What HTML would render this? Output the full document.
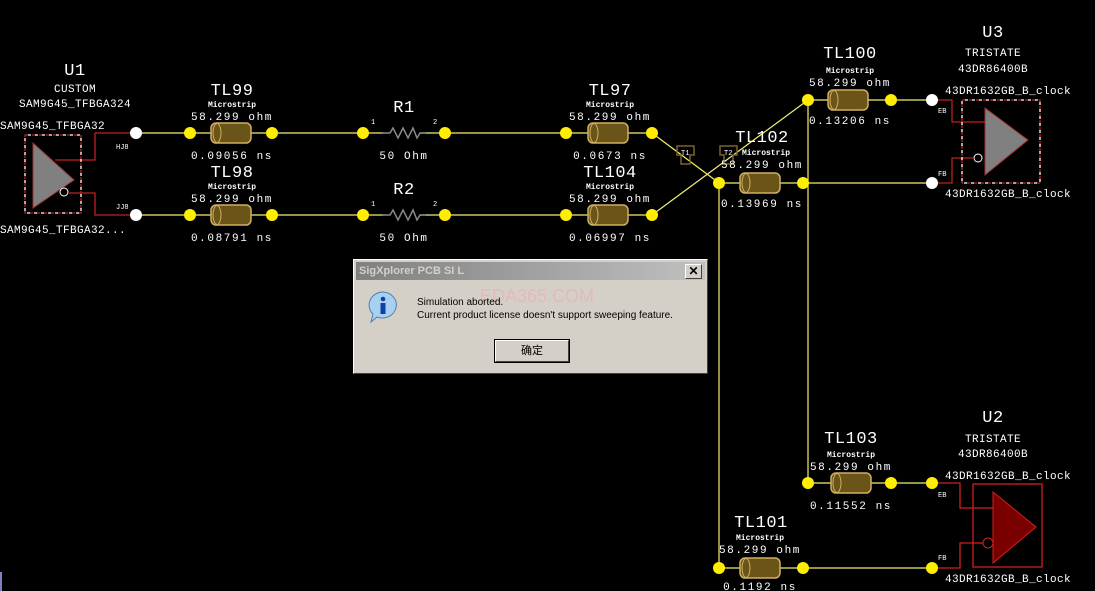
<!DOCTYPE html>
<html><head><meta charset="utf-8">
<style>
html,body{margin:0;padding:0;background:#000;width:1095px;height:591px;overflow:hidden;position:relative}
svg{position:absolute;left:0;top:0}
svg text{font-family:"Liberation Mono",monospace;fill:#fff}
.dlg{position:absolute;left:353px;top:259px;width:355px;height:115px;background:#d4d0c8;border:1px solid #fff;border-right-color:#404040;border-bottom-color:#404040;box-sizing:border-box;font-family:"Liberation Sans","Noto Sans CJK SC",sans-serif}
.tb{position:absolute;left:2px;top:2px;right:2px;height:18px;background:linear-gradient(90deg,#808080,#c0c0c0);color:#d4d0c8;font-weight:bold;font-size:11px;line-height:18px;padding-left:3px}
.cl{position:absolute;right:3px;top:2px;width:15px;height:13px;background:#d4d0c8;border:1px solid #fff;border-right-color:#404040;border-bottom-color:#404040;color:#000;font-size:12px;line-height:12px;text-align:center;font-weight:bold}
.msg{position:absolute;left:63px;top:36px;font-size:10px;color:#000;line-height:13px}
.wm{position:absolute;left:126px;top:26px;font-size:18px;color:rgba(240,170,170,.6)}
.btn{position:absolute;left:141px;top:80px;width:74px;height:22px;border:1px solid #fff;border-right-color:#404040;border-bottom-color:#404040;box-sizing:border-box;font-size:11px;text-align:center;line-height:20px;color:#000;outline:1px solid #000}
</style></head><body>
<svg width="1095" height="591" viewBox="0 0 1095 591">
<defs>
<g id="cyl">
<rect x="-20" y="-10" width="40" height="20" rx="5" fill="#6b5418" stroke="#d0b060" stroke-width="1.5"/>
<ellipse cx="-14" cy="0" rx="4" ry="9.5" fill="none" stroke="#d0b060" stroke-width="1"/>
</g>
<g id="res"><polyline points="-22,0 -14,0 -11,-5 -6,5 -1,-5 4,5 9,-5 13,5 16,0 22,0" fill="none" stroke="#8a8a8a" stroke-width="1.5"/></g>
</defs>
<g stroke="#f4f070" stroke-width="1.2" fill="none">
<line x1="136" y1="133" x2="272" y2="133"/><line x1="136" y1="215" x2="272" y2="215"/>
<line x1="272" y1="133" x2="385" y2="133"/><line x1="272" y1="215" x2="385" y2="215"/>
<line x1="420" y1="133" x2="652" y2="133"/><line x1="420" y1="215" x2="652" y2="215"/>
<line x1="652" y1="133" x2="719" y2="183"/><line x1="652" y1="215" x2="808" y2="100"/>
<line x1="719" y1="183" x2="932" y2="183"/><line x1="808" y1="100" x2="932" y2="100"/>
<line x1="808" y1="100" x2="808" y2="483"/><line x1="719" y1="183" x2="719" y2="568"/>
<line x1="808" y1="483" x2="932" y2="483"/><line x1="719" y1="568" x2="932" y2="568"/>
</g>
<use href="#cyl" x="231" y="133"/><use href="#cyl" x="231" y="215"/>
<use href="#cyl" x="608" y="133"/><use href="#cyl" x="608" y="215"/>
<use href="#cyl" x="760" y="183"/><use href="#cyl" x="848" y="100"/>
<use href="#cyl" x="851" y="483"/><use href="#cyl" x="760" y="568"/>
<rect x="384" y="130" width="36" height="6" fill="#000"/><rect x="384" y="212" width="36" height="6" fill="#000"/>
<use href="#res" x="404" y="133"/><use href="#res" x="404" y="215"/>
<g fill="#ffee00">
<circle cx="190" cy="133" r="6"/><circle cx="272" cy="133" r="6"/><circle cx="190" cy="215" r="6"/><circle cx="272" cy="215" r="6"/>
<circle cx="363" cy="133" r="6"/><circle cx="445" cy="133" r="6"/><circle cx="363" cy="215" r="6"/><circle cx="445" cy="215" r="6"/>
<circle cx="566" cy="133" r="6"/><circle cx="652" cy="133" r="6"/><circle cx="566" cy="215" r="6"/><circle cx="652" cy="215" r="6"/>
<circle cx="719" cy="183" r="6"/><circle cx="803" cy="183" r="6"/><circle cx="808" cy="100" r="6"/><circle cx="891" cy="100" r="6"/>
<circle cx="808" cy="483" r="6"/><circle cx="891" cy="483" r="6"/><circle cx="719" cy="568" r="6"/><circle cx="803" cy="568" r="6"/>
<circle cx="932" cy="483" r="6"/><circle cx="932" cy="568" r="6"/>
</g>
<g fill="#fff"><circle cx="136" cy="133" r="6"/><circle cx="136" cy="215" r="6"/><circle cx="932" cy="100" r="6"/><circle cx="932" cy="183" r="6"/></g>
<g fill="none" stroke="#7a6428" stroke-width="1.5">
<path d="M677,146 h17 v9 h-4 v9 h-9 v-9 h-4 z"/><path d="M720,146 h17 v9 h-4 v9 h-9 v-9 h-4 z"/>
</g>
<polygon points="33,143 74,180 33,208" fill="#808080" stroke="#a03030"/>
<circle cx="64" cy="192" r="4" fill="none" stroke="#fff"/>
<g fill="none" stroke-width="1.3">
<polyline points="55,160 95,160 95,133 130,133" stroke="#c02020"/>
<polyline points="68,193 95,193 95,215 130,215" stroke="#c02020"/>
<rect x="25" y="135" width="56" height="78" stroke="#c02020" stroke-dasharray="4 3"/>
<rect x="25" y="135" width="56" height="78" stroke="#fff" stroke-dasharray="3 4" stroke-dashoffset="4"/>
</g>
<polygon points="985,108 1028,140 985,175" fill="#808080" stroke="#a03030"/>
<circle cx="978" cy="158" r="4" fill="none" stroke="#fff"/>
<g fill="none" stroke-width="1.3">
<polyline points="938,100 952,100 952,122 985,122" stroke="#c02020"/>
<polyline points="938,183 952,183 952,158 974,158" stroke="#c02020"/>
<rect x="962" y="100" width="78" height="83" stroke="#c02020" stroke-dasharray="4 3"/>
<rect x="962" y="100" width="78" height="83" stroke="#fff" stroke-dasharray="3 4" stroke-dashoffset="4"/>
</g>
<rect x="973" y="484" width="69" height="83" fill="none" stroke="#d02020" stroke-width="1.3"/>
<polygon points="993,492 1036,527 993,563" fill="#7a0000" stroke="#d02020"/>
<circle cx="988" cy="543" r="5" fill="none" stroke="#d02020"/>
<polyline points="938,483 960,483 960,508 993,508" fill="none" stroke="#d02020" stroke-width="1.3"/>
<polyline points="938,568 960,568 960,543 983,543" fill="none" stroke="#d02020" stroke-width="1.3"/>
<g text-anchor="middle">
<g font-size="17" letter-spacing="0.5">
<text x="75" y="75">U1</text>
<text x="232" y="95">TL99</text>
<text x="232" y="177">TL98</text>
<text x="404" y="112">R1</text>
<text x="404" y="194">R2</text>
<text x="610" y="95">TL97</text>
<text x="610" y="177">TL104</text>
<text x="762" y="142">TL102</text>
<text x="850" y="58">TL100</text>
<text x="993" y="37">U3</text>
<text x="993" y="422">U2</text>
<text x="851" y="443">TL103</text>
<text x="761" y="527">TL101</text>
</g>
<g font-size="8" font-weight="bold">
<text x="232" y="107">Microstrip</text><text x="232" y="189">Microstrip</text>
<text x="610" y="107">Microstrip</text><text x="610" y="189">Microstrip</text>
<text x="766" y="155">Microstrip</text><text x="850" y="73">Microstrip</text>
<text x="851" y="457">Microstrip</text><text x="760" y="540">Microstrip</text>
</g>
<g font-size="11" letter-spacing="1.6">
<text x="232" y="120">58.299 ohm</text><text x="232" y="202">58.299 ohm</text>
<text x="610" y="120">58.299 ohm</text><text x="610" y="202">58.299 ohm</text>
<text x="762" y="168">58.299 ohm</text><text x="850" y="86">58.299 ohm</text>
<text x="851" y="470">58.299 ohm</text><text x="760" y="553">58.299 ohm</text>
<text x="232" y="159">0.09056 ns</text><text x="232" y="241">0.08791 ns</text>
<text x="610" y="159">0.0673 ns</text><text x="610" y="241">0.06997 ns</text>
<text x="762" y="207">0.13969 ns</text><text x="850" y="124">0.13206 ns</text>
<text x="851" y="509">0.11552 ns</text><text x="760" y="590">0.1192 ns</text>
<text x="404" y="159">50 Ohm</text><text x="404" y="241">50 Ohm</text>
</g>
<g font-size="11" letter-spacing="0.4">
<text x="75" y="92">CUSTOM</text>
<text x="75" y="107" fill="#e8c0e8">SAM9G45_TFBGA324</text>
<text x="993" y="56">TRISTATE</text>
<text x="993" y="72" fill="#e8c0e8">43DR86400B</text>
<text x="993" y="442">TRISTATE</text>
<text x="993" y="457" fill="#e8c0e8">43DR86400B</text>
</g>
</g>
<g font-size="11" letter-spacing="0.4">
<text x="0" y="129">SAM9G45_TFBGA32</text>
<text x="0" y="233">SAM9G45_TFBGA32...</text>
<text x="945" y="94">43DR1632GB_B_clock</text>
<text x="945" y="197">43DR1632GB_B_clock</text>
<text x="945" y="479">43DR1632GB_B_clock</text>
<text x="945" y="582">43DR1632GB_B_clock</text>
</g>
<g font-size="7" fill="#fff">
<text x="116" y="149" fill="#e0d0ff">HJ8</text><text x="116" y="209" fill="#e0d0ff">JJ8</text>
<text x="371" y="124">1</text><text x="433" y="124">2</text><text x="371" y="206">1</text><text x="433" y="206">2</text>
<text x="681" y="155" fill="#e8e0a0">T1</text><text x="724" y="155" fill="#e8e0a0">T2</text>
<text x="938" y="113" fill="#e0d0ff">EB</text><text x="938" y="176" fill="#e0d0ff">FB</text>
<text x="938" y="497" fill="#e0d0ff">EB</text><text x="938" y="560" fill="#e0d0ff">FB</text>
</g>
<rect x="0" y="572" width="2" height="19" fill="#8080c0"/>
</svg>
<div class="dlg">
<div class="tb">SigXplorer PCB SI L<div class="cl">✕</div></div>
<svg width="34" height="34" style="left:12px;top:30px">
<path d="M17,2 a14,13 0 1,1 -6,25 l-6,5 l2,-8 a14,13 0 0,1 10,-22z" fill="#a8d0f0" stroke="#5080b0"/>
<circle cx="17" cy="9" r="2.3" fill="#1040a0"/><rect x="14.5" y="13" width="5" height="11" fill="#1040a0"/>
</svg>
<div class="wm">EDA365.COM</div>
<div class="msg">Simulation aborted.<br>Current product license doesn't support sweeping feature.</div>
<div class="btn">确定</div>
</div>
</body></html>
